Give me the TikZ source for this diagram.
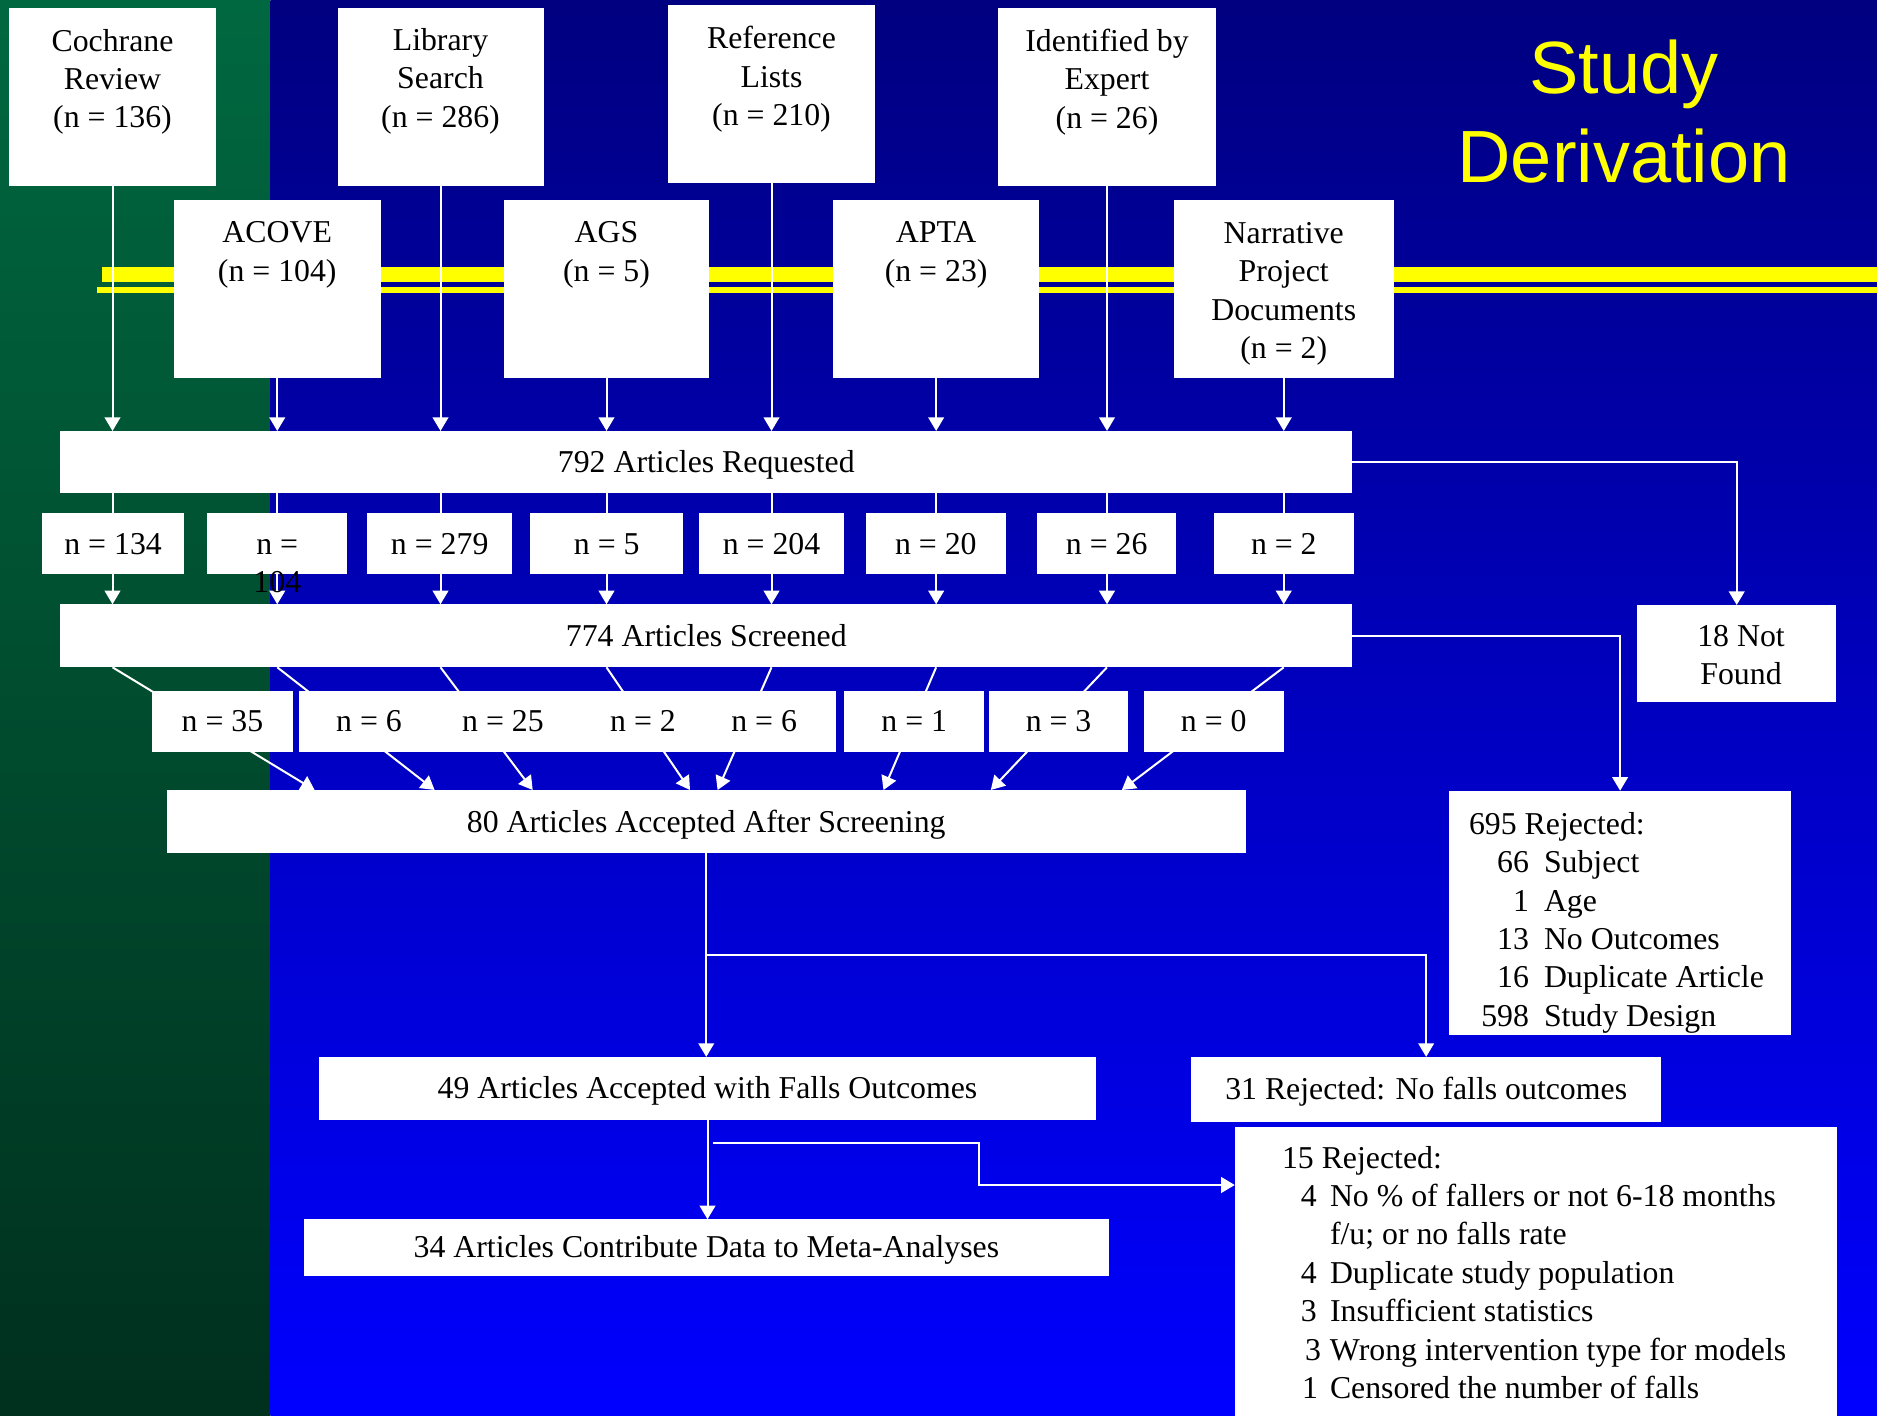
\documentclass[tikz,border=0pt]{standalone}
\usepackage{fontspec}
\setmainfont{Liberation Serif}
\newfontfamily\titlefont{Liberation Sans}
\usetikzlibrary{arrows.meta,calc}
\definecolor{bgblueTop}{RGB}{0,0,128}
\definecolor{bgblueBot}{RGB}{0,0,255}
\definecolor{bggreenTop}{RGB}{0,104,64}
\definecolor{bggreenBot}{RGB}{0,48,30}
\definecolor{bandyellow}{RGB}{255,255,0}
\newcommand\boxfont{\fontsize{15.9}{19.2}\selectfont}
\newcommand\bx[6]{\node[wbox, minimum width={(#4-#2)*0.5pt}, minimum height={(#5-#3)*0.5pt}] (#1) at ({(#2+#4)/2},{(#3+#5)/2}) {#6};}
\begin{document}
\begin{tikzpicture}[x=0.5pt, y=-0.5pt,
  wbox/.style={fill=white, draw=none, inner sep=0pt, outer sep=0pt, text height=10.4pt, text depth=0pt, font=\boxfont, text=black},
  txt/.style={inner sep=0pt, outer sep=0pt, font=\boxfont, text=black},
  arr/.style={draw=white, line width=1pt, -{Triangle[length=6.8pt,width=7.8pt]}},
  ln/.style={draw=white, line width=1pt}]
\useasboundingbox (0,0) rectangle (1877,1416);
\clip (0,0) rectangle (1877,1416);
% background
\shade[top color=bggreenTop, bottom color=bggreenBot] (0,0) rectangle (270.5,1416);
\shade[top color=bgblueTop, bottom color=bgblueBot] (270.5,0) rectangle (1877,1416);
% yellow bands
\fill[bandyellow] (101.8,266.7) rectangle (1877,282);
\fill[bandyellow] (96.9,287.3) rectangle (1877,292.7);
% title
\node[anchor=north, align=center, inner sep=0pt, text=bandyellow, font=\titlefont\fontsize{37}{44.7}\selectfont] (title) at (1624,39.5) {Study\\Derivation};
% source boxes
\bx{cochrane}{9}{8}{216}{186}{}
\bx{library}{337.5}{8}{543.5}{186}{}
\bx{reflists}{668}{5}{875}{182.7}{}
\bx{expert}{998}{8}{1216}{185.7}{}
\bx{acove}{174}{200}{380.5}{378}{}
\bx{ags}{503.6}{200}{709.4}{378}{}
\bx{apta}{833}{200}{1039.3}{378}{}
\bx{narr}{1173.7}{200}{1393.8}{378}{}
\node[txt, anchor=north, align=center] (cochraneT) at ($(cochrane.north)+(0,21)$) {Cochrane\\Review\\(n = 136)};
\node[txt, anchor=north, align=center] (libraryT) at ($(library.north)+(0,20.5)$) {Library\\Search\\(n = 286)};
\node[txt, anchor=north, align=center] (reflistsT) at ($(reflists.north)+(0,21.5)$) {Reference\\Lists\\(n = 210)};
\node[txt, anchor=north, align=center] (expertT) at ($(expert.north)+(0,21)$) {Identified by\\Expert\\(n = 26)};
\node[txt, anchor=north, align=center] (acoveT) at ($(acove.north)+(0,21.7)$) {ACOVE\\(n = 104)};
\node[txt, anchor=north, align=center] (agsT) at ($(ags.north)+(0,21.7)$) {AGS\\(n = 5)};
\node[txt, anchor=north, align=center] (aptaT) at ($(apta.north)+(0,21.7)$) {APTA\\(n = 23)};
\node[txt, anchor=north, align=center] (narrT) at ($(narr.north)+(0,22.2)$) {Narrative\\Project\\Documents\\(n = 2)};
% main flow boxes
\bx{req}{60.3}{431}{1352.3}{493.3}{792 Articles Requested}
\bx{n134}{41.9}{513.3}{184.3}{574.3}{n = 134}
\bx{n104}{207.2}{513.3}{347.3}{574.3}{n =}
\bx{n279}{367.4}{513.3}{512}{574.3}{n = 279}
\bx{n5}{530.4}{513.3}{683.1}{574.3}{n = 5}
\bx{n204}{698.6}{513.3}{844.4}{574.3}{n = 204}
\bx{n20}{865.7}{513.3}{1005.9}{574.3}{n = 20}
\bx{n26}{1037.3}{513.3}{1176}{574.3}{n = 26}
\bx{n2}{1214}{513.3}{1353.6}{574.3}{n = 2}
\bx{scr}{60.3}{604.3}{1352.3}{667.3}{774 Articles Screened}
\bx{nf}{1637.2}{605}{1836.2}{701.7}{}
\node[txt, anchor=north, align=center] (nfT) at (1741,625.2) {18 Not\\Found};
\bx{acc}{166.5}{790}{1246}{853.3}{80 Articles Accepted After Screening}
\bx{r695}{1449.2}{790.7}{1791}{1034.8}{}
\node[txt, anchor=north west, align=left] (r695T) at (1469,812.3) {695 Rejected:\\
\makebox[30pt][r]{66}\hspace{7.5pt}Subject\\
\makebox[30pt][r]{1}\hspace{7.5pt}Age\\
\makebox[30pt][r]{13}\hspace{7.5pt}No Outcomes\\
\makebox[30pt][r]{16}\hspace{7.5pt}Duplicate Article\\
\makebox[30pt][r]{598}\hspace{7.5pt}Study Design};
\bx{f49}{319}{1056.9}{1096}{1119.7}{49 Articles Accepted with Falls Outcomes}
\bx{r31}{1191.3}{1056.9}{1661}{1121.5}{31 Rejected: No falls outcomes\hspace{4.5pt}}
\bx{r15}{1234.8}{1126.5}{1836.6}{1440}{}
\node[txt, anchor=north west, align=left] (r15T) at (1282,1146) {15 Rejected:\\
\makebox[24pt][l]{\hspace{9.4pt}4}No \% of fallers or not 6-18 months\\
\makebox[24pt][l]{}f/u; or no falls rate\\
\makebox[24pt][l]{\hspace{9.4pt}4}Duplicate study population\\
\makebox[24pt][l]{\hspace{9.4pt}3}Insufficient statistics\\
\makebox[24pt][l]{\hspace{11.6pt}3}Wrong intervention type for models\\
\makebox[24pt][l]{\hspace{10pt}1}Censored the number of falls};
\bx{f34}{303.8}{1219.3}{1109}{1275.6}{34 Articles Contribute Data to Meta-Analyses}
% sources -> requested
\foreach \s in {cochrane,library,reflists,expert,acove,ags,apta,narr}
  \draw[arr] (\s.south) -- (\s.south |- req.north);
% requested -> n boxes -> screened
\foreach \s/\n in {cochrane/n134,acove/n104,library/n279,ags/n5,reflists/n204,apta/n20,expert/n26,narr/n2}{
  \draw[ln] (\s.south |- req.south) -- (\s.south |- \n.north);
  \draw[arr] (\s.south |- \n.south) -- (\s.south |- scr.north);
}
% not found and rejected
\draw[arr] (req.east) -| (nf.north);
\draw[arr] (scr.east) -| (r695.north);
% screened -> accepted
\foreach \s/\d in {cochrane/148.1,acove/268.1,library/366.2,ags/523.5,reflists/551.1,apta/717,expert/824.3,narr/955.3}
  \draw[arr] (\s.south |- scr.south) -- ($(acc.north west)+(\d,0)$);
% accepted -> falls outcomes
\coordinate (br1) at ($(acc.south)+(0,102)$);
\draw[arr] (acc.south) -- (acc.south |- f49.north);
\draw[arr] (br1) -| (r31.north);
\draw[arr] (f49.south) -- (f49.south |- f34.north);
\coordinate (br2) at ($(f49.south)+(5.5,23)$);
\coordinate (r15in) at ($(r15.north west)+(0,58.5)$);
\draw[arr] (br2) -- ++(265.8,0) |- (r15in);
% row of accepted counts (drawn over the connectors)
\bx{a35}{151.6}{690.7}{293.3}{751.7}{n = 35}
\bx{a6}{299}{690.7}{439}{751.7}{n = 6}
\bx{a25}{432}{690.7}{574}{751.7}{n = 25}
\bx{a2}{574}{690.7}{712}{751.7}{n = 2}
\bx{a6b}{692}{690.7}{836.4}{751.7}{n = 6}
\bx{a1}{844.4}{690.7}{984.2}{751.7}{n = 1}
\bx{a3}{988.8}{690.7}{1128.3}{751.7}{n = 3}
\bx{a0}{1144}{690.7}{1283.5}{751.7}{n = 0}
% overflowing text of the n = 104 box
\node[txt, anchor=base] (n104b) at (277.3,592.7) {104};
\end{tikzpicture}
\end{document}
